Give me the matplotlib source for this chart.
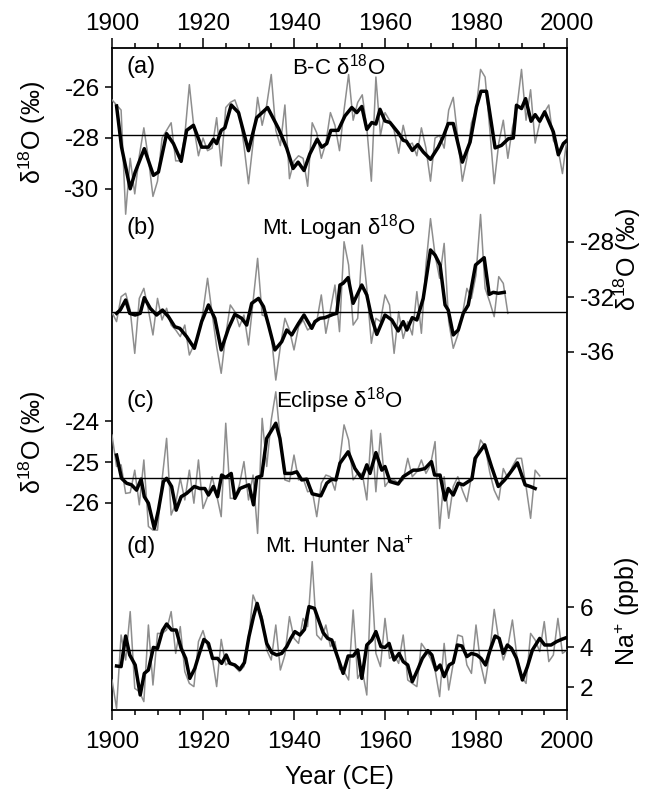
import numpy as np
import matplotlib
matplotlib.use('Agg')
import matplotlib.pyplot as plt
from matplotlib.ticker import MultipleLocator

plt.rcParams['font.family'] = ['Liberation Sans', 'DejaVu Sans']
plt.rcParams['mathtext.fontset'] = 'custom'
plt.rcParams['mathtext.rm'] = 'Liberation Sans'
plt.rcParams['mathtext.it'] = 'Liberation Sans:italic'
plt.rcParams['mathtext.bf'] = 'Liberation Sans:bold'
plt.rcParams['axes.unicode_minus'] = False

# ---- data ----
# (a) B-C d18O, annual 1900-2000
bc_annual = [
    -26.5, -26.7, -26.9, -31.0, -28.8, -30.2, -28.7, -27.6, -28.8, -30.3,
    -29.7, -28.0, -27.7, -27.4, -28.9, -28.9, -27.9, -25.9, -27.6, -28.7,
    -28.0, -28.5, -28.4, -27.2, -29.1, -26.8, -26.6, -26.5, -27.0, -28.3,
    -29.8, -28.2, -26.4, -27.5, -26.7, -25.5, -27.7, -28.3, -26.7, -29.6,
    -28.9, -28.7, -28.8, -29.9, -27.4, -27.8, -28.8, -28.2, -27.0, -27.5,
    -28.5, -26.9, -25.5, -27.3, -26.6, -26.3, -27.6, -29.7, -25.6, -27.9,
    -27.0, -27.3, -27.7, -28.6, -27.5, -28.3, -28.2, -28.7, -27.6, -28.4,
    -29.7, -28.0, -27.9, -28.4, -26.9, -26.4, -28.0, -29.7, -28.8, -27.4,
    -26.9, -25.3, -25.6, -27.6, -29.8, -28.2, -27.3, -28.8, -27.6, -26.8,
    -25.3, -27.3, -26.1, -28.2, -27.4, -27.0, -26.7, -28.1, -28.4, -29.4,
    -28.0]
bc_smooth_years = [
    1901.0, 1902.1, 1904.0, 1905.1, 1907.1, 1909.1, 1910.2, 1912.0, 1913.5, 1915.2,
    1916.4, 1917.9, 1919.7, 1921.2, 1922.3, 1923.0, 1924.0, 1924.8, 1926.2, 1927.8,
    1930.0, 1931.8, 1934.2, 1936.6, 1938.4, 1939.8, 1940.9, 1942.2, 1943.5, 1945.1,
    1946.1, 1947.2, 1948.1, 1949.7, 1951.2, 1952.7, 1953.8, 1954.9, 1956.0, 1957.1,
    1958.0, 1958.9, 1960.0, 1961.1, 1962.9, 1964.0, 1964.7, 1966.0, 1967.2, 1968.4,
    1970.0, 1971.7, 1972.8, 1973.9, 1975.0, 1977.0, 1978.7, 1980.1, 1981.1, 1982.3,
    1984.2, 1985.6, 1987.1, 1988.2, 1988.9, 1990.0, 1990.9, 1992.1, 1993.0, 1994.0,
    1995.1, 1997.0, 1998.1, 1999.2, 2000.0]
bc_smooth = [
    -26.74, -28.36, -30.00, -29.34, -28.42, -29.47, -29.34, -27.83, -28.22, -28.92,
    -27.70, -27.50, -28.36, -28.36, -28.05, -28.22, -27.70, -27.60, -26.70, -27.00,
    -28.50, -27.20, -26.80, -27.63, -28.40, -29.20, -28.95, -29.28, -28.62, -28.05,
    -28.36, -28.22, -27.70, -27.70, -27.13, -26.80, -27.00, -26.76, -27.66, -27.39,
    -27.45, -26.87, -27.33, -27.39, -27.79, -28.09, -28.13, -28.49, -28.26, -28.55,
    -28.84, -28.36, -27.95, -27.43, -27.43, -28.95, -28.16, -26.78, -26.16, -26.16,
    -28.39, -28.29, -28.03, -28.00, -26.71, -26.84, -26.45, -27.34, -27.08, -27.34,
    -26.97, -27.76, -28.66, -28.22, -28.09]
bc_mean = -27.88

# (b) Mt. Logan d18O, annual 1900-1987
logan_annual = [
    -33.12, -33.79, -31.98, -31.73, -32.95, -36.10, -32.10, -31.37, -32.95, -34.76,
    -32.10, -33.67, -32.82, -34.04, -34.40, -34.88, -34.04, -36.22, -35.49, -34.76,
    -33.07, -30.64, -33.19, -35.61, -37.55, -34.76, -32.58, -33.07, -34.16, -33.31,
    -35.49, -32.34, -29.19, -33.31, -33.43, -34.76, -38.04, -35.61, -33.55, -34.40,
    -35.85, -34.16, -33.67, -34.40, -34.16, -33.79, -31.85, -34.64, -32.95, -31.13,
    -34.52, -27.98, -29.67, -34.04, -33.55, -28.22, -31.37, -35.37, -33.55, -33.79,
    -31.85, -32.58, -36.10, -33.07, -35.01, -33.79, -34.76, -31.61, -34.64, -29.67,
    -26.30, -28.95, -30.64, -28.10, -33.79, -35.73, -34.76, -33.31, -31.37, -32.10,
    -30.40, -26.00, -31.37, -32.34, -33.43, -30.52, -31.01, -33.19]
logan_smooth_years = [
    1901.0, 1901.8, 1903.0, 1903.9, 1905.1, 1906.2, 1907.1, 1908.4, 1909.8, 1911.1,
    1912.4, 1913.8, 1914.9, 1916.4, 1918.1, 1919.7, 1921.2, 1922.6, 1924.0, 1925.6,
    1927.0, 1928.5, 1929.6, 1930.7, 1932.2, 1933.3, 1934.4, 1935.8, 1937.3, 1938.4,
    1939.5, 1941.0, 1942.2, 1943.9, 1944.6, 1945.7, 1946.8, 1948.6, 1949.4, 1950.1,
    1950.8, 1951.9, 1953.0, 1954.9, 1956.0, 1957.1, 1958.2, 1960.0, 1961.5, 1962.9,
    1964.0, 1964.8, 1966.0, 1967.0, 1968.4, 1970.0, 1971.0, 1972.1, 1973.2, 1973.9,
    1975.0, 1976.1, 1977.2, 1978.3, 1979.9, 1981.8, 1982.9, 1983.8, 1984.9, 1986.2]
logan_smooth = [
    -33.19, -32.95, -32.22, -33.19, -33.31, -33.19, -32.05, -32.82, -33.31, -32.95,
    -33.43, -34.16, -34.28, -34.88, -35.73, -33.79, -32.58, -33.55, -35.85, -34.28,
    -33.26, -33.55, -34.04, -32.46, -32.10, -32.70, -34.04, -35.85, -35.25, -34.40,
    -34.76, -33.92, -33.31, -34.28, -33.79, -33.55, -33.50, -33.26, -33.19, -31.13,
    -31.00, -30.59, -32.46, -31.13, -31.85, -33.55, -34.72, -33.31, -33.67, -34.47,
    -33.79, -34.40, -33.50, -33.67, -32.10, -28.58, -28.95, -29.67, -32.58, -32.95,
    -34.76, -34.40, -33.19, -32.58, -29.67, -29.14, -31.81, -31.66, -31.73, -31.66]
logan_mean = -33.1

# (c) Eclipse d18O, annual 1900-1994
eclipse_annual = [
    -24.34, -25.11, -25.07, -25.77, -25.75, -25.20, -26.05, -24.95, -26.58, -26.67,
    -26.67, -25.44, -24.42, -26.30, -26.01, -25.40, -25.93, -25.20, -26.01, -24.95,
    -26.14, -25.85, -25.36, -25.81, -26.34, -24.05, -25.89, -25.89, -25.56, -24.99,
    -25.93, -25.32, -26.75, -23.93, -25.11, -23.97, -23.28, -24.46, -25.44, -25.48,
    -24.83, -25.44, -25.40, -25.73, -25.69, -26.34, -25.52, -25.32, -25.36, -25.69,
    -25.00, -24.09, -24.46, -25.44, -25.28, -25.28, -25.93, -24.22, -25.73, -24.30,
    -25.60, -25.44, -25.44, -25.52, -25.44, -24.91, -25.36, -25.24, -24.95, -25.28,
    -25.07, -24.50, -26.63, -25.36, -26.38, -25.60, -25.36, -25.69, -25.97, -25.36,
    -24.99, -24.46, -24.62, -25.24, -25.69, -25.93, -25.16, -25.40, -25.11, -24.91,
    -24.91, -25.60, -26.38, -25.20, -25.34]
eclipse_smooth_years = [
    1901.0, 1902.1, 1903.2, 1904.3, 1905.4, 1906.4, 1907.1, 1908.0, 1909.3, 1910.2,
    1911.3, 1912.0, 1913.1, 1914.1, 1915.2, 1916.4, 1918.1, 1919.3, 1920.4, 1921.2,
    1922.3, 1923.2, 1924.1, 1925.0, 1926.2, 1927.0, 1928.1, 1929.2, 1930.1, 1931.1,
    1931.8, 1932.9, 1934.0, 1935.1, 1936.0, 1936.9, 1938.0, 1939.5, 1940.6, 1941.7,
    1942.8, 1944.0, 1945.9, 1947.2, 1948.3, 1949.2, 1950.1, 1951.9, 1953.4, 1954.9,
    1956.0, 1956.7, 1958.0, 1959.3, 1960.0, 1961.1, 1962.9, 1964.0, 1966.2, 1967.3,
    1968.8, 1970.2, 1970.9, 1972.1, 1973.2, 1973.9, 1975.0, 1976.1, 1977.2, 1979.1,
    1979.8, 1981.9, 1983.4, 1984.9, 1986.3, 1987.4, 1989.1, 1990.8, 1991.9, 1993.0]
eclipse_smooth = [
    -24.83, -25.40, -25.52, -25.56, -25.69, -25.42, -25.85, -26.01, -26.63, -26.18,
    -25.48, -25.40, -25.60, -26.18, -25.85, -25.77, -25.60, -25.65, -25.65, -25.81,
    -25.60, -25.85, -25.32, -25.38, -25.28, -25.89, -25.65, -25.60, -25.56, -26.05,
    -25.38, -25.34, -24.42, -24.22, -24.05, -24.42, -25.28, -25.28, -25.24, -25.44,
    -25.42, -25.78, -25.83, -25.52, -25.42, -25.44, -25.03, -24.75, -25.16, -25.40,
    -25.07, -25.28, -24.77, -25.20, -25.11, -25.48, -25.54, -25.36, -25.20, -25.20,
    -25.16, -24.99, -25.32, -25.32, -25.93, -25.65, -25.81, -25.52, -25.56, -25.42,
    -24.91, -24.58, -25.11, -25.60, -25.44, -25.28, -25.02, -25.56, -25.60, -25.65]
eclipse_mean = -25.38

# (d) Mt. Hunter Na+, annual 1900-2000
hunter_annual = [
    2.35, 0.93, 4.60, 3.35, 5.77, 1.93, 1.77, 1.27, 5.10, 2.10,
    4.68, 4.68, 4.85, 5.77, 3.68, 5.02, 2.77, 2.18, 2.02, 4.27,
    4.82, 4.02, 3.52, 2.02, 4.38, 3.10, 3.27, 3.02, 2.77, 3.02,
    4.35, 6.60, 6.02, 5.52, 3.85, 3.35, 5.10, 2.85, 3.60, 5.52,
    4.43, 4.18, 5.43, 5.02, 8.27, 4.60, 4.35, 5.10, 4.02, 4.27,
    2.90, 2.77, 2.35, 5.85, 2.43, 2.85, 1.60, 7.68, 3.68, 3.02,
    5.43, 3.43, 3.60, 3.18, 4.60, 2.35, 2.18, 2.02, 4.18, 3.85,
    3.43, 2.85, 1.52, 4.18, 1.85, 3.18, 4.60, 4.52, 3.10, 2.68,
    5.10, 3.18, 2.18, 3.68, 5.88, 4.35, 3.35, 4.02, 5.35, 3.52,
    2.52, 2.18, 4.68, 4.35, 3.77, 5.27, 3.27, 3.60, 5.43, 3.68,
    3.85]
hunter_smooth_years = [
    1901.0, 1902.0, 1903.0, 1903.9, 1905.1, 1906.2, 1907.1, 1908.0, 1909.1, 1910.0,
    1911.1, 1912.0, 1913.1, 1914.1, 1915.2, 1916.2, 1917.1, 1918.2, 1919.2, 1920.2,
    1921.2, 1922.1, 1923.2, 1924.1, 1925.1, 1925.9, 1927.0, 1928.1, 1929.1, 1930.1,
    1931.1, 1931.9, 1932.9, 1934.0, 1935.1, 1936.2, 1937.3, 1938.4, 1939.3, 1940.2,
    1941.3, 1942.3, 1943.3, 1944.5, 1945.4, 1946.4, 1947.4, 1948.3, 1950.1, 1950.8,
    1951.9, 1953.0, 1954.0, 1954.9, 1956.0, 1957.1, 1958.0, 1959.1, 1960.0, 1960.9,
    1962.0, 1963.1, 1964.0, 1965.0, 1966.0, 1967.3, 1968.2, 1969.4, 1970.3, 1971.2,
    1972.1, 1973.0, 1974.1, 1975.0, 1975.9, 1976.9, 1978.0, 1979.0, 1980.2, 1981.1,
    1982.1, 1983.1, 1984.2, 1985.1, 1986.0, 1986.9, 1987.8, 1988.9, 1990.2, 1991.3,
    1992.4, 1994.0, 1995.1, 1996.5, 1997.7, 1998.8, 2000.0]
hunter_smooth = [
    3.05, 3.02, 4.55, 3.60, 3.10, 1.60, 2.68, 2.85, 3.98, 3.93,
    4.82, 5.15, 4.85, 4.85, 3.93, 3.43, 2.43, 2.93, 3.68, 4.38,
    4.18, 3.43, 3.43, 3.18, 3.60, 3.18, 3.10, 2.88, 3.22, 4.52,
    5.52, 6.18, 5.35, 4.18, 3.72, 3.60, 3.68, 4.02, 4.43, 4.77,
    4.60, 4.88, 6.02, 5.93, 5.35, 4.72, 4.43, 4.35, 3.15, 2.68,
    3.55, 3.55, 3.85, 2.43, 4.10, 4.35, 4.77, 4.02, 3.98, 4.18,
    3.35, 3.68, 3.27, 3.10, 2.27, 2.93, 3.43, 3.82, 3.60, 2.85,
    3.10, 2.52, 3.10, 3.22, 4.10, 4.05, 3.52, 3.68, 3.60, 3.43,
    3.10, 3.85, 4.55, 4.43, 3.68, 4.10, 3.93, 3.43, 2.35, 3.02,
    3.85, 4.43, 4.10, 4.10, 4.27, 4.38, 4.48]
hunter_mean = 3.87

year_ticks = [1900, 1920, 1940, 1960, 1980, 2000]

# ---- layout (pixels in a 650x790 figure) ----
W, H = 650, 790
LEFT, RIGHT, TOP, BOTTOM = 112, 567, 48, 710
GRAY = '#8e8e8e'
FS = 17.5


def ylim_for(ref_val, ref_px, px_per_unit):
    """y-limits so that ref_val sits at ref_px with the given scale"""
    lo = ref_val - (BOTTOM - ref_px) / px_per_unit
    hi = ref_val + (ref_px - TOP) / px_per_unit
    return lo, hi


fig = plt.figure(figsize=(W / 100, H / 100), dpi=100)
rect = [LEFT / W, 1 - BOTTOM / H, (RIGHT - LEFT) / W, (BOTTOM - TOP) / H]
ax = fig.add_axes(rect)
ax.set_xlim(1900, 2000)
ax.set_yticks([])
ax.set_xticks(year_ticks)
ax.xaxis.set_minor_locator(MultipleLocator(5))
ax.tick_params(axis='x', which='major', direction='out', length=7, width=1.1,
               labelsize=FS, pad=8)
ax.tick_params(axis='x', which='minor', direction='out', length=3.5, width=1.1)
for s in ax.spines.values():
    s.set_linewidth(1.3)

# top axis, own copy so its labels can sit closer to the frame
top = ax.twiny()
top.set_xlim(1900, 2000)
top.set_xticks(year_ticks)
top.xaxis.set_minor_locator(MultipleLocator(5))
top.set_yticks([])
top.patch.set_visible(False)
top.tick_params(axis='x', which='major', direction='out', length=7, width=1.1,
                labelsize=FS, pad=2.5)
top.tick_params(axis='x', which='minor', direction='out', length=3.5, width=1.1)
for s in top.spines.values():
    s.set_visible(False)

panels = [
    # annual, smooth years, smooth, mean, (ref, px, scale), side, ticks
    (bc_annual, bc_smooth_years, bc_smooth, bc_mean, (-28, 138, 25.4), 'left', [-30, -28, -26]),
    (logan_annual, logan_smooth_years, logan_smooth, logan_mean, (-32, 297, 13.75), 'right', [-36, -32, -28]),
    (eclipse_annual, eclipse_smooth_years, eclipse_smooth, eclipse_mean, (-25, 462, 40.8), 'left', [-26, -25, -24]),
    (hunter_annual, hunter_smooth_years, hunter_smooth, hunter_mean, (4, 647, 20.0), 'right', [2, 4, 6]),
]

for annual, sy, sm, mean, (ref, px, scale), side, ticks in panels:
    p = fig.add_axes(rect, sharex=ax)
    p.patch.set_visible(False)
    for s in p.spines.values():
        s.set_visible(False)
    p.xaxis.set_visible(False)
    p.set_ylim(*ylim_for(ref, px, scale))
    years = np.arange(1900, 1900 + len(annual))
    p.plot(years, annual, color=GRAY, lw=1.1, zorder=2)
    p.plot(sy, sm, color='black', lw=2.5, zorder=3)
    p.axhline(mean, color='black', lw=1.0, zorder=4)
    p.yaxis.set_ticks_position(side)
    p.yaxis.set_label_position(side)
    p.set_yticks(ticks)
    p.tick_params(axis='y', direction='out', length=5, width=1.1,
                  labelsize=FS, pad=4)

ax.set_xlim(1900, 2000)


def fx(px):
    return (px - LEFT) / (RIGHT - LEFT)


def fy(px):
    return (BOTTOM - px) / (BOTTOM - TOP)


# panel labels and titles
labels = ['(a)', '(b)', '(c)', '(d)']
titles = ['B-C δ$^{18}$O', 'Mt. Logan δ$^{18}$O',
          'Eclipse δ$^{18}$O', 'Mt. Hunter Na$^{+}$']
label_y = [67, 228, 401, 547]
for lab, tit, yy in zip(labels, titles, label_y):
    ax.text(fx(127), fy(yy), lab, transform=ax.transAxes, fontsize=17,
            ha='left', va='center', zorder=10)
    ax.text(fx(339), fy(yy), tit, transform=ax.transAxes, fontsize=16,
            ha='center', va='center', zorder=10)

ylab = 'δ$^{18}$O (‰)'
LFS = 18
fig.text(32 / W, 1 - 133 / H, ylab, rotation=90, ha='center', va='center', fontsize=LFS)
fig.text(32 / W, 1 - 443 / H, ylab, rotation=90, ha='center', va='center', fontsize=LFS)
fig.text(627 / W, 1 - 260 / H, ylab, rotation=90, ha='center', va='center', fontsize=LFS)
fig.text(627 / W, 1 - 612 / H, 'Na$^{+}$ (ppb)', rotation=90, ha='center', va='center', fontsize=LFS)
fig.text((LEFT + RIGHT) / 2 / W, 1 - 777 / H, 'Year (CE)', ha='center', va='center', fontsize=LFS)

fig.savefig('out.png', dpi=100)
